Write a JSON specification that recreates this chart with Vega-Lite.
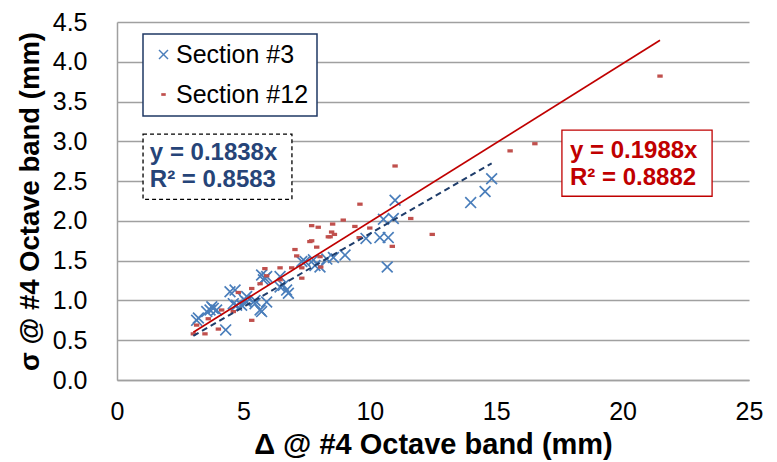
{
  "$schema": "https://vega.github.io/schema/vega-lite/v6.json",
  "width": 632,
  "height": 358,
  "autosize": "none",
  "padding": {"left": 117, "top": 22, "right": 28, "bottom": 82},
  "background": "white",
  "config": {
    "font": "Liberation Sans",
    "view": {"stroke": null},
    "axisX": {
      "grid": false,
      "ticks": false,
      "domainColor": "#A0A0A0",
      "domainWidth": 1.5,
      "labelFontSize": 25,
      "labelColor": "#000000",
      "labelPadding": 19,
      "labelFlush": false,
      "labelOverlap": false,
      "titleFontSize": 29,
      "titleFontWeight": "bold",
      "titleColor": "#000000",
      "titlePadding": 6
    },
    "axisY": {
      "grid": true,
      "gridColor": "#A0A0A0",
      "gridWidth": 1.5,
      "ticks": false,
      "domainColor": "#A0A0A0",
      "domainWidth": 1.5,
      "labelFontSize": 25,
      "labelColor": "#000000",
      "labelPadding": 30,
      "labelOverlap": false,
      "titleFontSize": 27.5,
      "titleFontWeight": "bold",
      "titleColor": "#000000",
      "titlePadding": 8
    },
    "legend": {
      "fillColor": "white",
      "strokeColor": "#1F3864",
      "strokeWidth": 1.5,
      "padding": 8,
      "symbolOffset": 0,
      "labelOffset": 0,
      "labelFontSize": 25,
      "labelColor": "#000000",
      "labelFont": "Liberation Sans",
      "symbolSize": 100,
      "rowPadding": 14,
      "symbolStrokeWidth": 0
    }
  },
  "layer": [
    {
      "data": {
        "values": [
          {"series": "Section #3", "delta": 3.15, "sigma": 0.75},
          {"series": "Section #3", "delta": 3.22, "sigma": 0.78},
          {"series": "Section #3", "delta": 3.55, "sigma": 0.86},
          {"series": "Section #3", "delta": 3.68, "sigma": 0.88},
          {"series": "Section #3", "delta": 3.75, "sigma": 0.92},
          {"series": "Section #3", "delta": 3.81, "sigma": 0.90},
          {"series": "Section #3", "delta": 3.94, "sigma": 0.88},
          {"series": "Section #3", "delta": 4.30, "sigma": 0.63},
          {"series": "Section #3", "delta": 4.47, "sigma": 1.11},
          {"series": "Section #3", "delta": 4.67, "sigma": 1.13},
          {"series": "Section #3", "delta": 4.60, "sigma": 0.96},
          {"series": "Section #3", "delta": 4.73, "sigma": 0.94},
          {"series": "Section #3", "delta": 4.93, "sigma": 0.94},
          {"series": "Section #3", "delta": 5.06, "sigma": 1.00},
          {"series": "Section #3", "delta": 5.13, "sigma": 1.05},
          {"series": "Section #3", "delta": 5.13, "sigma": 0.98},
          {"series": "Section #3", "delta": 5.46, "sigma": 0.96},
          {"series": "Section #3", "delta": 5.46, "sigma": 1.00},
          {"series": "Section #3", "delta": 5.66, "sigma": 0.88},
          {"series": "Section #3", "delta": 5.72, "sigma": 0.86},
          {"series": "Section #3", "delta": 5.72, "sigma": 1.32},
          {"series": "Section #3", "delta": 5.79, "sigma": 1.26},
          {"series": "Section #3", "delta": 5.85, "sigma": 1.28},
          {"series": "Section #3", "delta": 5.92, "sigma": 1.30},
          {"series": "Section #3", "delta": 5.92, "sigma": 0.98},
          {"series": "Section #3", "delta": 6.45, "sigma": 1.30},
          {"series": "Section #3", "delta": 6.45, "sigma": 1.17},
          {"series": "Section #3", "delta": 6.58, "sigma": 1.19},
          {"series": "Section #3", "delta": 6.71, "sigma": 1.13},
          {"series": "Section #3", "delta": 6.78, "sigma": 1.09},
          {"series": "Section #3", "delta": 7.31, "sigma": 1.49},
          {"series": "Section #3", "delta": 7.44, "sigma": 1.49},
          {"series": "Section #3", "delta": 7.77, "sigma": 1.51},
          {"series": "Section #3", "delta": 7.83, "sigma": 1.44},
          {"series": "Section #3", "delta": 8.03, "sigma": 1.42},
          {"series": "Section #3", "delta": 8.30, "sigma": 1.52},
          {"series": "Section #3", "delta": 8.56, "sigma": 1.54},
          {"series": "Section #3", "delta": 9.02, "sigma": 1.57},
          {"series": "Section #3", "delta": 9.85, "sigma": 1.78},
          {"series": "Section #3", "delta": 10.40, "sigma": 1.79},
          {"series": "Section #3", "delta": 10.73, "sigma": 1.79},
          {"series": "Section #3", "delta": 10.54, "sigma": 2.02},
          {"series": "Section #3", "delta": 10.93, "sigma": 2.03},
          {"series": "Section #3", "delta": 11.00, "sigma": 2.26},
          {"series": "Section #3", "delta": 10.69, "sigma": 1.42},
          {"series": "Section #3", "delta": 13.99, "sigma": 2.23},
          {"series": "Section #3", "delta": 14.56, "sigma": 2.37},
          {"series": "Section #3", "delta": 14.82, "sigma": 2.53},
          {"series": "Section #12", "delta": 3.02, "sigma": 0.58},
          {"series": "Section #12", "delta": 3.15, "sigma": 0.69},
          {"series": "Section #12", "delta": 3.48, "sigma": 0.58},
          {"series": "Section #12", "delta": 3.61, "sigma": 0.77},
          {"series": "Section #12", "delta": 4.01, "sigma": 0.64},
          {"series": "Section #12", "delta": 4.14, "sigma": 0.88},
          {"series": "Section #12", "delta": 4.60, "sigma": 0.86},
          {"series": "Section #12", "delta": 4.80, "sigma": 1.10},
          {"series": "Section #12", "delta": 5.33, "sigma": 1.15},
          {"series": "Section #12", "delta": 5.33, "sigma": 0.75},
          {"series": "Section #12", "delta": 5.66, "sigma": 1.21},
          {"series": "Section #12", "delta": 5.85, "sigma": 1.40},
          {"series": "Section #12", "delta": 5.92, "sigma": 1.31},
          {"series": "Section #12", "delta": 6.45, "sigma": 1.26},
          {"series": "Section #12", "delta": 6.45, "sigma": 1.41},
          {"series": "Section #12", "delta": 6.91, "sigma": 1.41},
          {"series": "Section #12", "delta": 7.04, "sigma": 1.64},
          {"series": "Section #12", "delta": 7.11, "sigma": 1.56},
          {"series": "Section #12", "delta": 7.31, "sigma": 1.28},
          {"series": "Section #12", "delta": 7.31, "sigma": 1.41},
          {"series": "Section #12", "delta": 7.63, "sigma": 1.74},
          {"series": "Section #12", "delta": 7.70, "sigma": 1.75},
          {"series": "Section #12", "delta": 7.90, "sigma": 1.67},
          {"series": "Section #12", "delta": 7.70, "sigma": 1.94},
          {"series": "Section #12", "delta": 7.96, "sigma": 1.92},
          {"series": "Section #12", "delta": 8.03, "sigma": 1.55},
          {"series": "Section #12", "delta": 8.06, "sigma": 1.42},
          {"series": "Section #12", "delta": 8.36, "sigma": 1.80},
          {"series": "Section #12", "delta": 8.43, "sigma": 1.80},
          {"series": "Section #12", "delta": 8.49, "sigma": 1.86},
          {"series": "Section #12", "delta": 8.60, "sigma": 1.83},
          {"series": "Section #12", "delta": 8.53, "sigma": 1.96},
          {"series": "Section #12", "delta": 8.95, "sigma": 2.01},
          {"series": "Section #12", "delta": 9.41, "sigma": 1.93},
          {"series": "Section #12", "delta": 9.58, "sigma": 1.79},
          {"series": "Section #12", "delta": 9.61, "sigma": 2.21},
          {"series": "Section #12", "delta": 10.00, "sigma": 1.91},
          {"series": "Section #12", "delta": 10.89, "sigma": 1.68},
          {"series": "Section #12", "delta": 11.00, "sigma": 2.69},
          {"series": "Section #12", "delta": 11.62, "sigma": 2.03},
          {"series": "Section #12", "delta": 12.47, "sigma": 1.83},
          {"series": "Section #12", "delta": 15.55, "sigma": 2.88},
          {"series": "Section #12", "delta": 16.53, "sigma": 2.97},
          {"series": "Section #12", "delta": 21.48, "sigma": 3.82}
        ]
      },
      "mark": {"type": "point", "filled": true, "size": 144, "opacity": 1, "strokeWidth": 0},
      "encoding": {
        "x": {
          "field": "delta",
          "type": "quantitative",
          "scale": {"domain": [0, 25], "nice": false, "zero": false},
          "axis": {"values": [0, 5, 10, 15, 20, 25], "format": "d", "title": "Δ @ #4 Octave band (mm)"}
        },
        "y": {
          "field": "sigma",
          "type": "quantitative",
          "scale": {"domain": [0, 4.5], "nice": false, "zero": false},
          "axis": {"values": [0, 0.5, 1, 1.5, 2, 2.5, 3, 3.5, 4, 4.5], "format": ".1f", "title": "σ @ #4 Octave band (mm)"}
        },
        "color": {
          "field": "series",
          "type": "nominal",
          "scale": {"domain": ["Section #3", "Section #12"], "range": ["#4A7EBB", "#C0504D"]},
          "legend": {"title": null, "orient": "none", "legendX": 26, "legendY": 12}
        },
        "shape": {
          "field": "series",
          "type": "nominal",
          "scale": {
            "domain": ["Section #3", "Section #12"],
            "range": [
              "M-1,-0.8L-0.8,-1L0,-0.2L0.8,-1L1,-0.8L0.2,0L1,0.8L0.8,1L0,0.2L-0.8,1L-1,0.8L-0.2,0Z",
              "M-0.45,-0.27L0.45,-0.27L0.45,0.27L-0.45,0.27Z"
            ]
          },
          "legend": {"title": null, "orient": "none", "legendX": 26, "legendY": 12}
        }
      }
    },
    {
      "data": {"values": [{"delta": 3.02, "sigma": 0.555}, {"delta": 14.82, "sigma": 2.724}]},
      "mark": {"type": "line", "color": "#1F3D6B", "strokeWidth": 2, "strokeDash": [6, 4]},
      "encoding": {
        "x": {"field": "delta", "type": "quantitative", "axis": {"values": [0, 5, 10, 15, 20, 25], "format": "d", "title": "Δ @ #4 Octave band (mm)"}},
        "y": {"field": "sigma", "type": "quantitative", "axis": {"values": [0, 0.5, 1, 1.5, 2, 2.5, 3, 3.5, 4, 4.5], "format": ".1f", "title": "σ @ #4 Octave band (mm)"}}
      }
    },
    {
      "data": {"values": [{"delta": 3.02, "sigma": 0.600}, {"delta": 21.48, "sigma": 4.270}]},
      "mark": {"type": "line", "color": "#C00000", "strokeWidth": 1.7},
      "encoding": {
        "x": {"field": "delta", "type": "quantitative", "axis": {"values": [0, 5, 10, 15, 20, 25], "format": "d", "title": "Δ @ #4 Octave band (mm)"}},
        "y": {"field": "sigma", "type": "quantitative", "axis": {"values": [0, 0.5, 1, 1.5, 2, 2.5, 3, 3.5, 4, 4.5], "format": ".1f", "title": "σ @ #4 Octave band (mm)"}}
      }
    },
    {
      "data": {"values": [{"eq": "y = 0.1838x\nR² = 0.8583"}]},
      "layer": [
        {
          "mark": {"type": "rect", "fill": "white", "stroke": "#000000", "strokeWidth": 1.3, "strokeDash": [4, 3]},
          "encoding": {
            "x": {"datum": 1.03, "type": "quantitative", "axis": {"values": [0, 5, 10, 15, 20, 25], "format": "d", "title": "Δ @ #4 Octave band (mm)"}},
            "x2": {"datum": 6.92},
            "y": {"datum": 3.09, "type": "quantitative", "axis": {"values": [0, 0.5, 1, 1.5, 2, 2.5, 3, 3.5, 4, 4.5], "format": ".1f", "title": "σ @ #4 Octave band (mm)"}},
            "y2": {"datum": 2.27}
          }
        },
        {
          "mark": {"type": "text", "align": "left", "baseline": "middle", "lineBreak": "\n", "lineHeight": 27, "fontSize": 24, "fontWeight": "bold", "color": "#264478"},
          "encoding": {
            "x": {"datum": 1.3, "type": "quantitative", "axis": {"values": [0, 5, 10, 15, 20, 25], "format": "d", "title": "Δ @ #4 Octave band (mm)"}},
            "y": {"datum": 2.85, "type": "quantitative", "axis": {"values": [0, 0.5, 1, 1.5, 2, 2.5, 3, 3.5, 4, 4.5], "format": ".1f", "title": "σ @ #4 Octave band (mm)"}},
            "text": {"field": "eq", "type": "nominal"}
          }
        }
      ]
    },
    {
      "data": {"values": [{"eq": "y = 0.1988x\nR² = 0.8882"}]},
      "layer": [
        {
          "mark": {"type": "rect", "fill": "white", "stroke": "#C00000", "strokeWidth": 1.3},
          "encoding": {
            "x": {"datum": 17.6, "type": "quantitative", "axis": {"values": [0, 5, 10, 15, 20, 25], "format": "d", "title": "Δ @ #4 Octave band (mm)"}},
            "x2": {"datum": 23.54},
            "y": {"datum": 3.14, "type": "quantitative", "axis": {"values": [0, 0.5, 1, 1.5, 2, 2.5, 3, 3.5, 4, 4.5], "format": ".1f", "title": "σ @ #4 Octave band (mm)"}},
            "y2": {"datum": 2.31}
          }
        },
        {
          "mark": {"type": "text", "align": "left", "baseline": "middle", "lineBreak": "\n", "lineHeight": 27, "fontSize": 24, "fontWeight": "bold", "color": "#C00000"},
          "encoding": {
            "x": {"datum": 17.92, "type": "quantitative", "axis": {"values": [0, 5, 10, 15, 20, 25], "format": "d", "title": "Δ @ #4 Octave band (mm)"}},
            "y": {"datum": 2.877, "type": "quantitative", "axis": {"values": [0, 0.5, 1, 1.5, 2, 2.5, 3, 3.5, 4, 4.5], "format": ".1f", "title": "σ @ #4 Octave band (mm)"}},
            "text": {"field": "eq", "type": "nominal"}
          }
        }
      ]
    }
  ]
}
